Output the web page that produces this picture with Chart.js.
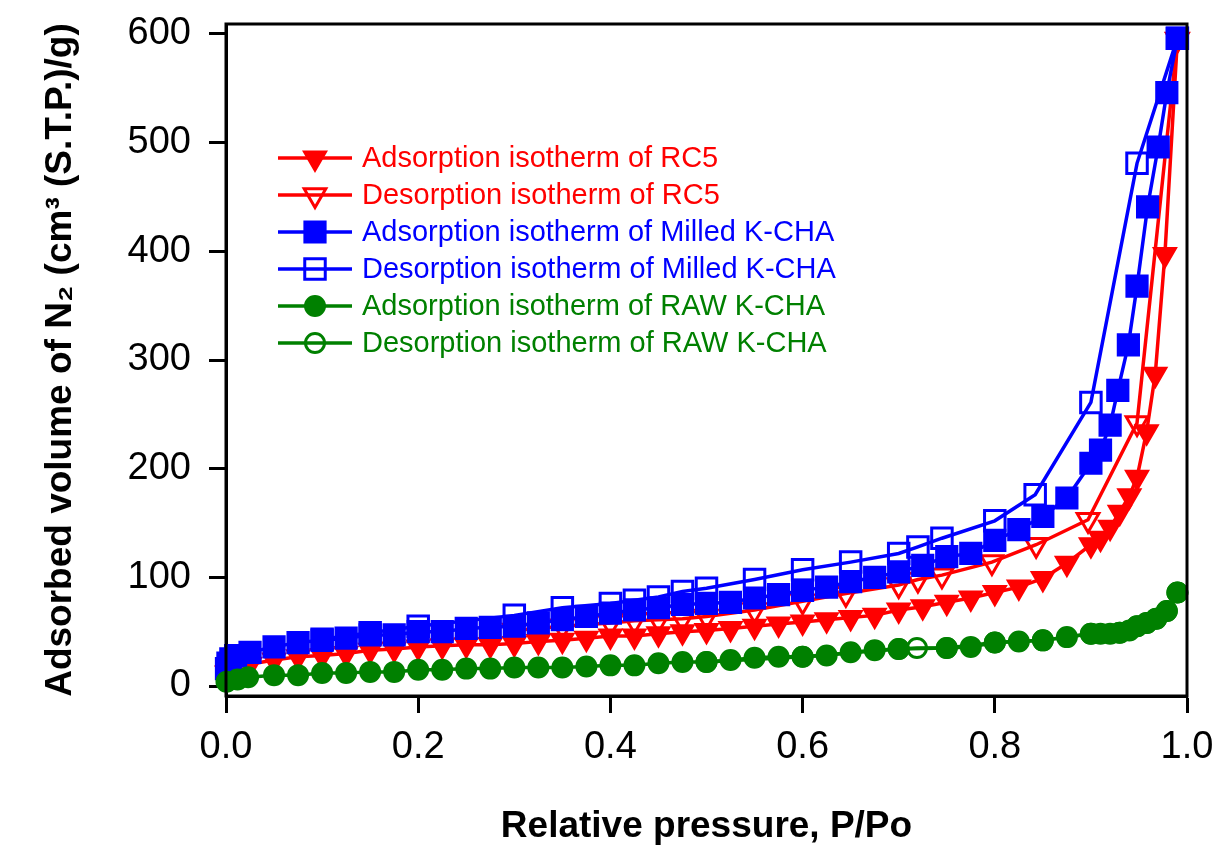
<!DOCTYPE html>
<html><head><meta charset="utf-8">
<script src="https://cdn.jsdelivr.net/npm/chart.js@4.4.1/dist/chart.umd.min.js"></script>
<style>html,body{margin:0;padding:0;background:#fff;}#wrap{width:1215px;height:845px;}</style>
</head><body><div id="wrap"><canvas id="c" width="1215" height="845"></canvas></div>
<script>
// ---- data ----
const seriesLabels = [
  'Adsorption isotherm of RC5',
  'Desorption isotherm of RC5',
  'Adsorption isotherm of Milled K-CHA',
  'Desorption isotherm of Milled K-CHA',
  'Adsorption isotherm of RAW K-CHA',
  'Desorption isotherm of RAW K-CHA'
];
const rc5AdsP = [0.001,0.005,0.025,0.05,0.075,0.1,0.125,0.15,0.175,0.2,0.225,0.25,0.275,0.3,0.325,0.35,0.375,0.4,0.425,0.45,0.475,0.5,0.525,0.55,0.575,0.6,0.625,0.65,0.675,0.7,0.725,0.75,0.775,0.8,0.825,0.85,0.875,0.9,0.91,0.92,0.93,0.94,0.948,0.958,0.967,0.977,0.99];
const rc5AdsV = [12,16,20,24,27,28,30,33,34,36,37,38,38,39,41,42,44,46,46,48,50,51,53,55,57,59,61,63,65,70,73,77,81,86,91,99,113,130,136,146,160,175,192,234,287,397,595];
const rc5DesP = [0.99,0.948,0.897,0.843,0.797,0.745,0.72,0.7,0.645,0.6,0.55,0.5,0.475,0.45,0.425,0.4,0.35,0.3];
const rc5DesV = [595,242,153,130,114,102,98,93,85,78,70,64,62,61,60,58,55,51];
const milAdsP = [0.0005,0.002,0.005,0.01,0.025,0.05,0.075,0.1,0.125,0.15,0.175,0.2,0.225,0.25,0.275,0.3,0.325,0.35,0.375,0.4,0.425,0.45,0.475,0.5,0.525,0.55,0.575,0.6,0.625,0.65,0.675,0.7,0.725,0.75,0.775,0.8,0.825,0.85,0.875,0.9,0.91,0.92,0.928,0.939,0.948,0.959,0.97,0.979,0.99];
const milAdsV = [16,21,25,28,31,36,40,42,44,47,47,50,50,53,54,55,58,61,64,67,70,72,75,76,77,81,84,88,91,96,100,105,111,119,122,134,144,156,173,205,217,240,272,314,368,441,496,546,596];
const milDesP = [0.99,0.948,0.9,0.842,0.8,0.745,0.72,0.7,0.65,0.6,0.55,0.5,0.475,0.45,0.425,0.4,0.35,0.3,0.2,0.15,0.1];
const milDesV = [596,481,261,176,152,136,128,122,114,107,98,90,87,82,79,76,72,65,55,49,43];
const rawAdsP = [0.0005,0.012,0.023,0.05,0.075,0.1,0.125,0.15,0.175,0.2,0.225,0.25,0.275,0.3,0.325,0.35,0.375,0.4,0.425,0.45,0.475,0.5,0.525,0.55,0.575,0.6,0.625,0.65,0.675,0.7,0.75,0.775,0.8,0.825,0.85,0.875,0.9,0.91,0.92,0.93,0.94,0.948,0.958,0.968,0.979,0.99];
const rawAdsV = [4,6,8,10,10,12,12,13,13,15,15,16,16,17,17,17,18,19,19,21,22,22,24,26,27,27,28,31,33,34,35,36,40,41,42,45,48,48,48,49,51,55,58,62,69,86];
const rawDesP = [0.99,0.979,0.968,0.958,0.948,0.93,0.9,0.85,0.8,0.75,0.719,0.7,0.6,0.5];
const rawDesV = [86,69,62,58,55,49,48,42,40,35,35,34,27,22];
const xTickValues = [0,0.2,0.4,0.6,0.8,1.0];
const yTickValues = [0,100,200,300,400,500,600];
const xTitle = 'Relative pressure, P/Po';
const yTitle = 'Adsorbed volume of N\u2082 (cm\u00B3 (S.T.P.)/g)';

// ---- styling ----
const FONT = "'Liberation Sans', Arial, sans-serif";
const RED = '#ff0000', BLUE = '#0000ff', GREEN = '#008000';
const styles = [
  {color: RED,   style: 'triangle', rot: 180, r: 13, fill: true,  bw: 2},
  {color: RED,   style: 'triangle', rot: 180, r: 12.5, fill: false, bw: 3},
  {color: BLUE,  style: 'rect',     rot: 0,   r: 15, fill: true,  bw: 2},
  {color: BLUE,  style: 'rect',     rot: 0,   r: 14.5, fill: false, bw: 3},
  {color: GREEN, style: 'circle',   rot: 0,   r: 10, fill: true,  bw: 2},
  {color: GREEN, style: 'circle',   rot: 0,   r: 9.5, fill: false, bw: 3}
];
const pairs = [[rc5AdsP,rc5AdsV],[rc5DesP,rc5DesV],[milAdsP,milAdsV],[milDesP,milDesV],[rawAdsP,rawAdsV],[rawDesP,rawDesV]];

const datasets = pairs.map((pv, i) => {
  const s = styles[i];
  return {
    label: seriesLabels[i],
    data: pv[0].map((x, k) => ({x: x, y: pv[1][k]})),
    showLine: true,
    borderColor: s.color,
    borderWidth: 3.5,
    pointStyle: s.style,
    pointRotation: s.rot,
    pointRadius: s.r,
    pointHoverRadius: s.r,
    pointBorderWidth: s.bw,
    pointBorderColor: s.color,
    pointBackgroundColor: s.fill ? s.color : 'rgba(0,0,0,0)',
    backgroundColor: s.fill ? s.color : 'rgba(0,0,0,0)',
    fill: false,
    tension: 0,
    clip: false,
    order: 5 - i
  };
});

const framePlugin = {
  id: 'frame',
  afterDraw(chart) {
    const {ctx, chartArea: a} = chart;
    ctx.save();
    ctx.strokeStyle = '#000';
    ctx.lineWidth = 3;
    ctx.strokeRect(a.left, a.top, a.right - a.left, a.bottom - a.top);
    ctx.restore();
  }
};

const legendPlugin = {
  id: 'innerLegend',
  afterDatasetsDraw(chart) {
    const ctx = chart.ctx;
    const x0 = 278, x1 = 352, xm = 315, tx = 362, y0 = 158, dy = 37;
    ctx.save();
    ctx.font = '29px ' + FONT;
    ctx.textBaseline = 'middle';
    ctx.textAlign = 'left';
    chart.data.datasets.forEach((ds, i) => {
      const s = styles[i];
      const y = y0 + i * dy;
      ctx.strokeStyle = s.color;
      ctx.lineWidth = 3.5;
      ctx.beginPath(); ctx.moveTo(x0, y); ctx.lineTo(x1, y); ctx.stroke();
      ctx.fillStyle = s.fill ? s.color : 'rgba(0,0,0,0)';
      ctx.lineWidth = s.bw;
      Chart.helpers.drawPoint(ctx, {pointStyle: s.style, rotation: s.rot, radius: s.r, borderWidth: s.bw}, xm, y);
      ctx.fillStyle = s.color;
      ctx.fillText(ds.label, tx, y + 1);
    });
    ctx.restore();
  }
};

new Chart(document.getElementById('c'), {
  type: 'scatter',
  data: {datasets},
  options: {
    responsive: false,
    devicePixelRatio: 1,
    animation: false,
    layout: {padding: {left: 0, top: 24, right: 28, bottom: 0}},
    plugins: {legend: {display: false}, tooltip: {enabled: false}},
    scales: {
      x: {
        type: 'linear', position: 'bottom', min: 0, max: 1,
        afterBuildTicks: (sc) => { sc.ticks = xTickValues.map(v => ({value: v})); },
        afterFit: (sc) => { sc.height = 149; sc.paddingLeft = 0; sc.paddingRight = 0; },
        ticks: {color: '#000', font: {family: FONT, size: 38}, padding: 12, maxRotation: 0,
                callback: (v) => Number(v).toFixed(1)},
        grid: {drawOnChartArea: false, drawTicks: true, tickLength: 17, tickWidth: 3, tickColor: '#000'},
        border: {display: true, color: '#000', width: 3},
        title: {display: true, text: xTitle, color: '#000', font: {family: FONT, size: 37, weight: 'bold', lineHeight: 1}, padding: {top: 0, bottom: 0}}
      },
      y: {
        type: 'linear', position: 'left', min: -9.2, max: 609.2,
        afterBuildTicks: (sc) => { sc.ticks = yTickValues.map(v => ({value: v})); },
        afterFit: (sc) => { sc.width = 226; sc.paddingTop = 0; sc.paddingBottom = 0; },
        ticks: {color: '#000', font: {family: FONT, size: 38}, padding: 18,
                callback: (v) => String(v)},
        grid: {drawOnChartArea: false, drawTicks: true, tickLength: 17, tickWidth: 3, tickColor: '#000'},
        border: {display: true, color: '#000', width: 3},
        title: {display: true, text: yTitle, color: '#000', font: {family: FONT, size: 37, weight: 'bold', lineHeight: 1}, padding: {top: 42, bottom: 0}}
      }
    }
  },
  plugins: [framePlugin, legendPlugin]
});
</script>
</body></html>
